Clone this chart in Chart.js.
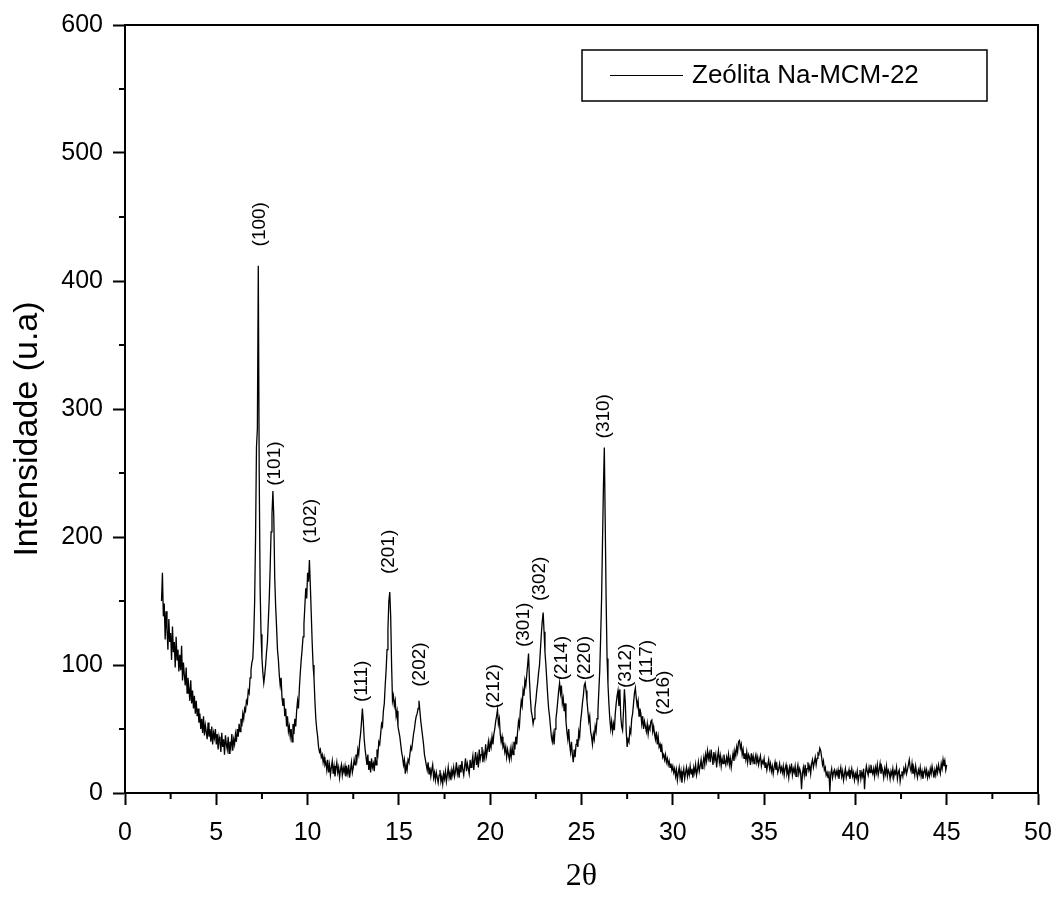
<!DOCTYPE html>
<html>
<head>
<meta charset="utf-8">
<script src="https://cdn.jsdelivr.net/npm/chart.js@4.4.1/dist/chart.umd.min.js"></script>
<style>
  body { margin: 0; background: #fff; }
  #wrap { width: 1056px; height: 901px; }
</style>
</head>
<body>
<div id="wrap"><canvas id="myChart" width="1056" height="901"></canvas></div>
<script>
// 2theta sampling of the scan (degrees)
const firstAngle = 2.0;
const angleStep = 0.05;

// intensity (u.a), one row per degree: n.00 ... n.95
const intensity = [
  150, 172, 138, 148, 120, 142, 128, 112, 136, 118, 125, 104, 130, 110, 118, 98, 122, 104, 112, 95,
  108, 96, 115, 88, 102, 92, 84, 98, 78, 90, 82, 72, 88, 70, 80, 66, 76, 62, 72, 60,
  66, 55, 62, 50, 58, 47, 60, 45, 53, 48, 42, 55, 44, 50, 40, 52, 38, 47, 43, 50,
  38, 46, 34, 44, 40, 32, 47, 36, 42, 30, 45, 38, 34, 44, 31, 40, 36, 46, 33, 42,
  38, 46, 40, 50, 44, 54, 48, 58, 52, 62, 58, 66, 64, 72, 70, 80, 78, 90, 96, 102,
  105, 122, 150, 200, 270, 285, 412, 250, 160, 124, 105, 94, 86, 92, 100, 110, 118, 135, 152, 176,
  204, 218, 236, 215, 168, 146, 130, 112, 104, 92, 84, 90, 74, 68, 74, 60, 66, 52, 60, 48,
  52, 44, 50, 40, 54, 46, 58, 52, 64, 72, 66, 82, 94, 104, 112, 122, 132, 146, 160, 152,
  172, 165, 182, 162, 140, 118, 100, 90, 72, 58, 50, 44, 36, 32, 34, 28, 30, 24, 28, 22,
  24, 18, 26, 16, 22, 14, 20, 25, 15, 21, 13, 19, 24, 16, 20, 12, 18, 22, 14, 20,
  16, 21, 13, 19, 15, 22, 12, 18, 24, 16, 20, 26, 22, 30, 26, 34, 30, 40, 46, 55,
  66, 56, 42, 34, 28, 22, 30, 18, 25, 16, 27, 20, 23, 17, 28, 22, 34, 30, 40, 38,
  46, 54, 52, 64, 70, 84, 96, 112, 128, 150, 157, 138, 100, 72, 76, 68, 72, 60, 64, 52,
  48, 44, 38, 32, 28, 22, 26, 15, 22, 18, 26, 24, 30, 36, 34, 40, 46, 50, 56, 60,
  62, 66, 72, 64, 56, 50, 44, 38, 30, 26, 22, 18, 24, 15, 20, 13, 18, 22, 12, 16,
  10, 16, 12, 8, 14, 18, 9, 13, 7, 15, 11, 17, 9, 14, 20, 12, 16, 10, 18, 14,
  20, 13, 17, 24, 15, 19, 12, 22, 16, 25, 18, 14, 21, 27, 17, 23, 19, 15, 26, 20,
  24, 29, 18, 26, 32, 22, 28, 20, 34, 26, 30, 36, 24, 31, 27, 38, 29, 34, 40, 32,
  40, 36, 44, 38, 46, 50, 56, 60, 65, 54, 58, 46, 40, 44, 36, 38, 32, 36, 28, 34,
  30, 26, 34, 28, 36, 30, 40, 34, 44, 38, 48, 56, 52, 64, 72, 68, 80, 76, 88, 84,
  92, 100, 109, 88, 74, 64, 60, 54, 58, 66, 72, 80, 86, 94, 100, 112, 124, 134, 141, 126,
  110, 100, 88, 76, 66, 60, 52, 44, 40, 46, 38, 50, 58, 64, 72, 80, 86, 78, 84, 70,
  74, 64, 70, 56, 48, 42, 50, 38, 32, 40, 30, 24, 34, 28, 38, 42, 36, 48, 44, 56,
  62, 70, 76, 84, 86, 80, 72, 64, 56, 60, 48, 44, 38, 46, 42, 52, 48, 58, 64, 80,
  96, 122, 152, 196, 238, 270, 210, 150, 105, 85, 70, 58, 50, 56, 48, 54, 49, 62, 70, 76,
  80, 68, 81, 60, 52, 49, 64, 81, 70, 48, 36, 42, 40, 50, 47, 58, 62, 70, 78, 82,
  74, 68, 72, 60, 66, 62, 54, 60, 50, 56, 52, 48, 54, 46, 52, 50, 56, 57, 48, 52,
  46, 42, 48, 38, 44, 36, 38, 32, 36, 28, 30, 26, 30, 24, 27, 22, 25, 20, 23, 18,
  21, 16, 19, 13, 18, 10, 16, 20, 12, 17, 8, 15, 19, 11, 16, 20, 13, 18, 14, 21,
  15, 19, 12, 20, 16, 22, 14, 18, 24, 17, 21, 26, 19, 23, 28, 22, 30, 25, 33, 27,
  31, 24, 34, 28, 22, 32, 26, 30, 20, 28, 33, 24, 29, 21, 27, 23, 30, 25, 22, 28,
  24, 30, 22, 27, 20, 26, 31, 25, 33, 29, 36, 32, 40, 41, 35, 38, 30, 34, 27, 31,
  26, 32, 24, 30, 28, 22, 31, 25, 29, 23, 27, 30, 24, 28, 22, 26, 29, 21, 25, 23,
  27, 20, 24, 18, 22, 26, 19, 23, 17, 21, 15, 20, 24, 18, 22, 16, 19, 23, 17, 20,
  16, 21, 14, 19, 22, 15, 18, 12, 20, 17, 23, 14, 19, 16, 21, 13, 18, 22, 15, 19,
  16, 3, 15, 20, 14, 22, 13, 19, 24, 18, 21, 15, 23, 26, 20, 24, 28, 22, 27, 31,
  30, 35, 33, 28, 22, 25, 18, 20, 14, 16, 12, 17, 1, 15, 19, 12, 16, 18, 13, 17,
  14, 18, 11, 16, 20, 13, 17, 10, 15, 19, 12, 16, 14, 18, 11, 15, 19, 13, 16, 10,
  15, 12, 17, 9, 14, 18, 11, 16, 13, 19, 3, 15, 21, 17, 14, 20, 16, 22, 18, 15,
  19, 13, 20, 16, 22, 14, 18, 23, 15, 20, 17, 12, 19, 15, 21, 13, 18, 16, 11, 17,
  14, 19, 12, 17, 15, 20, 11, 16, 18, 9, 14, 17, 13, 19, 16, 21, 15, 18, 22, 26,
  20, 17, 23, 15, 19, 14, 21, 16, 12, 18, 15, 20, 13, 17, 11, 16, 19, 14, 18, 12,
  16, 13, 19, 15, 21, 17, 12, 18, 14, 20, 16, 22, 18, 15, 23, 19, 26, 21, 25, 18,
  22
];

// Miller indices written over the peaks, with the (2theta, intensity) where each label starts
const peakLabels = ['(100)', '(101)', '(102)', '(111)', '(201)', '(202)', '(212)', '(301)',
                    '(302)', '(214)', '(220)', '(310)', '(312)', '(117)', '(216)'];
const peakAngles = [7.4, 8.2, 10.15, 12.99, 14.47, 16.17, 20.22, 21.86,
                    22.74, 23.94, 25.2, 26.24, 27.4, 28.55, 29.5];
const peakHeights = [427, 240, 195, 71, 171, 83, 66, 114,
                     150, 88, 88, 277, 82, 86, 61];

const seriesName = 'Zeólita Na-MCM-22';
const xTitle = '2θ';
const yTitle = 'Intensidade (u.a)';

const xMinorTicks = [2.5, 7.5, 12.5, 17.5, 22.5, 27.5, 32.5, 37.5, 42.5, 47.5];
const yMinorTicks = [50, 150, 250, 350, 450, 550];

const font = '"Liberation Sans", Arial, sans-serif';

let points = intensity.map(function (v, i) {
    return { x: +(firstAngle + i * angleStep).toFixed(2), y: v };
});

// frame, minor ticks, y title, hkl labels and legend box
const extrasPlugin = {
    id: 'extras',
    afterDraw(chart) {
        const ctx = chart.ctx;
        const area = chart.chartArea;
        const xs = chart.scales.x;
        const ys = chart.scales.y;

        ctx.save();
        ctx.strokeStyle = '#000';
        ctx.lineWidth = 2;
        ctx.beginPath();
        ctx.moveTo(area.left, area.top);
        ctx.lineTo(area.right, area.top);
        ctx.lineTo(area.right, area.bottom);
        ctx.stroke();

        ctx.beginPath();
        xMinorTicks.forEach(function (v) {
            let px = xs.getPixelForValue(v);
            ctx.moveTo(px, area.bottom);
            ctx.lineTo(px, area.bottom + 6);
        });
        yMinorTicks.forEach(function (v) {
            let py = ys.getPixelForValue(v);
            ctx.moveTo(area.left, py);
            ctx.lineTo(area.left - 6, py);
        });
        ctx.stroke();

        ctx.fillStyle = '#000';

        // y axis title, a little below the middle as in the original
        ctx.save();
        ctx.font = '34px ' + font;
        ctx.textAlign = 'center';
        ctx.textBaseline = 'middle';
        ctx.translate(28, (area.top + area.bottom) / 2 + 20);
        ctx.rotate(-Math.PI / 2);
        ctx.fillText(yTitle, 0, 0);
        ctx.restore();

        // rotated peak labels
        ctx.font = '19px ' + font;
        ctx.textAlign = 'left';
        ctx.textBaseline = 'middle';
        peakLabels.forEach(function (lab, i) {
            let px = xs.getPixelForValue(peakAngles[i]);
            let py = ys.getPixelForValue(peakHeights[i]);
            ctx.save();
            ctx.translate(px, py);
            ctx.rotate(-Math.PI / 2);
            ctx.fillText(lab, 0, 0);
            ctx.restore();
        });

        // legend
        let lx = area.right - 456, ly = area.top + 25;
        ctx.lineWidth = 1.5;
        ctx.strokeRect(lx, ly, 405, 51);
        ctx.lineWidth = 1;
        ctx.beginPath();
        ctx.moveTo(lx + 28, ly + 25.5);
        ctx.lineTo(lx + 101, ly + 25.5);
        ctx.stroke();
        ctx.font = '26px ' + font;
        ctx.textBaseline = 'middle';
        ctx.fillText(seriesName, lx + 110, ly + 26);
        ctx.restore();
    }
};

let ctx = document.getElementById('myChart').getContext('2d');
let myChart = new Chart(ctx, {
    type: 'line',
    data: {
        datasets: [{
            label: seriesName,
            data: points,
            borderColor: '#000',
            borderWidth: 1.3,
            pointRadius: 0,
            tension: 0,
            fill: false
        }]
    },
    options: {
        responsive: false,
        animation: false,
        layout: { padding: { left: 0, top: 25, right: 18, bottom: 0 } },
        plugins: {
            legend: { display: false },
            tooltip: { enabled: false }
        },
        scales: {
            x: {
                type: 'linear',
                min: 0,
                max: 50,
                afterFit: function (scale) {
                    scale.height = 108;
                    scale.paddingLeft = 0;
                    scale.paddingRight = 0;
                },
                border: { display: true, color: '#000', width: 2 },
                grid: { drawOnChartArea: false, drawTicks: true, tickLength: 12, tickWidth: 2, tickColor: '#000' },
                ticks: { stepSize: 5, color: '#000', padding: 13, maxRotation: 0, font: { family: font, size: 25 } },
                title: { display: true, text: xTitle, color: '#000', padding: { top: 0, bottom: 5 },
                         font: { family: '"Liberation Serif", "Times New Roman", serif', size: 32 } }
            },
            y: {
                min: 0,
                max: 600,
                afterFit: function (scale) {
                    scale.width = 125;
                    scale.paddingTop = 0;
                    scale.paddingBottom = 0;
                },
                border: { display: true, color: '#000', width: 2 },
                grid: { drawOnChartArea: false, drawTicks: true, tickLength: 12, tickWidth: 2, tickColor: '#000' },
                ticks: { stepSize: 100, color: '#000', padding: 10, font: { family: font, size: 25 } }
            }
        }
    },
    plugins: [extrasPlugin]
});
</script>
</body>
</html>
